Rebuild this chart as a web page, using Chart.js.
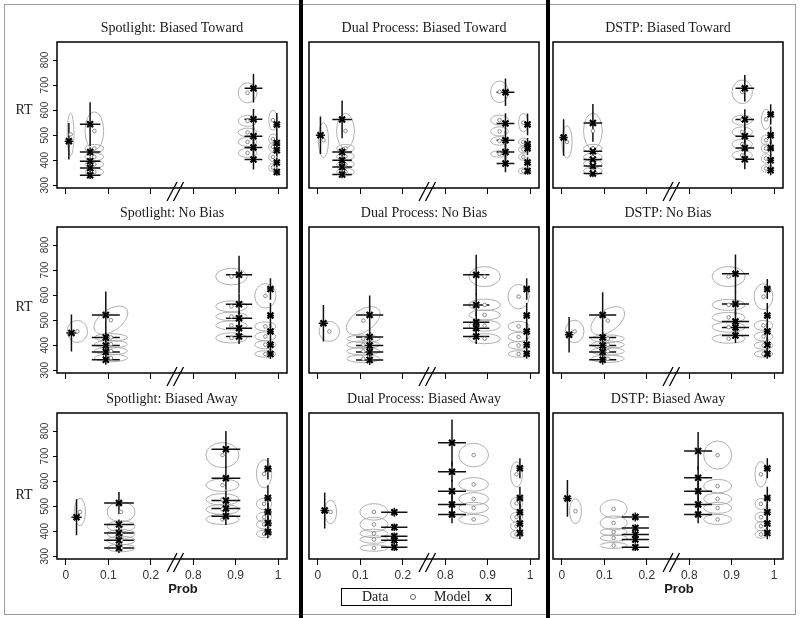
<!DOCTYPE html>
<html><head><meta charset="utf-8">
<script src="https://cdn.jsdelivr.net/npm/chart.js@4/dist/chart.umd.min.js"></script>
<style>
html,body{margin:0;padding:0;background:#fff;}
body{width:800px;height:618px;position:relative;overflow:hidden;}
.frame{position:absolute;left:4px;top:4px;width:792px;height:611px;border:1px solid #9a9a9a;box-sizing:border-box;}
.bar{position:absolute;top:0;width:4px;height:618px;background:#000;}
canvas{position:absolute;}
.t{position:absolute;font-family:"Liberation Serif","Times New Roman",serif;font-size:14px;color:#1a1a1a;white-space:nowrap;text-align:center;line-height:16px;height:16px;}
.prob{position:absolute;font-family:"Liberation Sans",Arial,sans-serif;font-weight:bold;font-size:13px;color:#1a1a1a;width:60px;text-align:center;line-height:16px;}
.legend{position:absolute;left:341px;top:588px;width:171px;height:18px;border:1px solid #000;box-sizing:border-box;font-family:"Liberation Serif","Times New Roman",serif;font-size:14px;color:#1a1a1a;}
.legend span{position:absolute;top:0;line-height:16px;}
.dot{position:absolute;width:4px;height:4px;border:1px solid #666;border-radius:50%;top:5px;}
.xm{font-family:"Liberation Sans",Arial,sans-serif;font-weight:bold;font-size:12px;}
</style>
</head>
<body>
<div class="frame"></div>
<div class="bar" style="left:299px"></div>
<div class="bar" style="left:546px"></div>
<div id="wrap"></div>
<div class="legend">
  <span style="left:20px">Data</span>
  <div class="dot" style="left:68px"></div>
  <span style="left:92px">Model</span>
  <span class="xm" style="left:143px">x</span>
</div>
<script>
// ---------------- data ----------------
const panelTitles = ["Spotlight: Biased Toward","Spotlight: No Bias","Spotlight: Biased Away",
  "Dual Process: Biased Toward","Dual Process: No Bias","Dual Process: Biased Away",
  "DSTP: Biased Toward","DSTP: No Bias","DSTP: Biased Away"];
const xTickValues = [0, 0.1, 0.2, 0.8, 0.9, 1];
const xTickLabels = ["0","0.1","0.2","0.8","0.9","1"];
const yTickValues = [300, 400, 500, 600, 700, 800];
const groupSizes = [1, 5, 5, 5];

// model: x per group (A,B,C,D), x half-error per group, y and y half-error per point
const modelGroupX = [
  [0.007, 0.057, 0.942, 0.997],
  [0.013, 0.094, 0.908, 0.982],
  [0.025, 0.125, 0.877, 0.976],
  [0.006, 0.057, 0.942, 0.994],
  [0.013, 0.122, 0.873, 0.992],
  [0.016, 0.180, 0.816, 0.976],
  [0.004, 0.073, 0.931, 0.992],
  [0.017, 0.096, 0.909, 0.984],
  [0.013, 0.173, 0.821, 0.984]];
const modelGroupXErr = [
  [0.010, 0.024, 0.021, 0.008],
  [0.012, 0.033, 0.031, 0.008],
  [0.012, 0.035, 0.034, 0.009],
  [0.011, 0.023, 0.021, 0.008],
  [0.011, 0.032, 0.031, 0.008],
  [0.010, 0.031, 0.033, 0.008],
  [0.010, 0.022, 0.022, 0.008],
  [0.010, 0.032, 0.032, 0.008],
  [0.010, 0.032, 0.033, 0.008]];
const modelY = [
  [476, 544,433,396,369,340, 687,564,496,451,403, 543,469,440,391,353],
  [449, 521,431,399,373,342, 681,564,508,468,435, 624,519,455,402,365],
  [456, 513,427,393,364,333, 727,611,523,491,460, 649,533,477,433,397],
  [500, 563,433,400,373,343, 671,547,480,433,387, 543,464,447,391,357],
  [488, 521,433,399,373,341, 681,561,492,468,435, 624,519,455,402,366],
  [483, 476,416,380,364,336, 753,637,560,507,467, 651,533,476,431,393],
  [491, 549,436,403,377,347, 687,563,496,449,404, 583,500,449,400,360],
  [442, 521,431,399,373,342, 685,565,495,471,439, 624,519,455,402,366],
  [531, 457,413,387,367,336, 720,613,560,507,467, 651,533,476,431,393]];
const modelYErr = [
  [73, 87,18,15,15,15, 57,40,35,35,40, 45,30,25,20,15],
  [74, 93,20,18,18,20, 76,40,30,30,30, 43,50,30,25,20],
  [72, 44,20,18,18,20, 73,45,40,35,35, 43,50,35,30,25],
  [75, 75,18,15,15,15, 55,40,35,35,35, 43,25,25,20,15],
  [73, 77,20,18,18,20, 80,45,40,35,30, 43,50,35,30,20],
  [72, 18,15,15,15,15, 93,40,45,40,35, 40,45,35,30,25],
  [73, 75,20,15,15,15, 53,40,35,35,40, 40,35,30,25,20],
  [71, 90,20,18,18,20, 77,45,40,35,30, 40,50,35,30,20],
  [73, 18,15,15,15,15, 76,45,40,40,35, 40,45,35,30,25]];

// data: x per group, y per point, ellipse half-widths per group, half-heights per point
const dataGroupX = [
  [0.011, 0.067, 0.928, 0.988],
  [0.027, 0.106, 0.890, 0.970],
  [0.033, 0.130, 0.869, 0.967],
  [0.013, 0.065, 0.928, 0.984],
  [0.027, 0.107, 0.893, 0.973],
  [0.030, 0.132, 0.867, 0.968],
  [0.012, 0.073, 0.925, 0.981],
  [0.030, 0.108, 0.893, 0.975],
  [0.032, 0.122, 0.867, 0.969]];
const dataY = [
  [503, 517,447,413,384,353, 669,557,511,473,429, 560,484,453,413,371],
  [455, 500,431,404,377,349, 674,555,515,479,429, 597,475,435,402,365],
  [477, 477,420,389,363,333, 704,584,527,487,447, 629,509,456,427,389],
  [480, 517,447,415,383,353, 673,560,515,477,425, 550,473,443,413,357],
  [455, 498,426,402,376,346, 674,561,521,478,426, 594,475,433,399,365],
  [477, 477,427,391,367,333, 704,587,529,493,447, 627,511,456,420,387],
  [473, 517,447,413,387,357, 673,560,513,464,420, 563,480,447,407,367],
  [455, 498,426,402,376,346, 674,561,511,472,426, 594,479,435,399,365],
  [480, 489,433,397,373,343, 704,580,529,493,447, 627,509,456,420,387]];
const ellGroupRX = [
  [0.008, 0.022, 0.022, 0.010],
  [0.024, 0.039, 0.037, 0.025],
  [0.013, 0.033, 0.039, 0.018],
  [0.012, 0.021, 0.021, 0.011],
  [0.024, 0.039, 0.037, 0.025],
  [0.014, 0.033, 0.035, 0.014],
  [0.012, 0.022, 0.024, 0.011],
  [0.022, 0.039, 0.039, 0.022],
  [0.014, 0.032, 0.033, 0.014]];
const ellRY = [
  [85, 76,16,15,15,15, 40,22,17,18,18, 40,20,18,18,15],
  [44, 48,15,15,15,15, 33,22,17,18,20, 49,18,18,16,13],
  [55, 40,22,18,17,15, 50,25,23,20,20, 56,23,20,18,15],
  [70, 70,16,15,15,15, 43,20,18,17,13, 37,15,13,13,12],
  [40, 48,15,15,15,15, 40,23,20,22,20, 49,20,18,15,13],
  [47, 33,29,17,15,13, 47,27,25,22,20, 50,25,20,18,15],
  [65, 71,16,15,15,15, 47,20,20,20,18, 40,20,18,18,15],
  [45, 48,15,15,15,15, 40,22,20,20,18, 52,20,18,15,13],
  [50, 37,28,15,13,12, 56,27,23,22,20, 51,22,20,18,15]];
// tilted ellipses: [panel, point, half-width (prob), half-height (RT), angle deg]
const ellTilt = [[1,1,0.045,43,-35],[4,1,0.045,43,-35],[7,1,0.045,43,-35]];

// ---------------- layout ----------------
const plotLeft = [57, 309, 553], plotTop = [42, 227, 413];
const plotW = 230, plotH = 146;
const xMin = -0.021, xMax = 0.521, yMin = 289, yMax = 872;
const rtCenters = [110, 307, 495];
const groupOf = [];
groupSizes.forEach((n,g)=>{for(let k=0;k<n;k++) groupOf.push(g);});
const brk = v => v > 0.5 ? v - 0.5 : v;   // broken axis: 0.8..1 drawn right after 0.2..0.3 gap

const drawPlugin = {
  id: 'panelDraw',
  beforeDatasetsDraw(chart, args, opts){
    const p = opts.panel, {ctx, chartArea:a} = chart, x = chart.scales.x, y = chart.scales.y;
    ctx.save();
    ctx.beginPath(); ctx.rect(a.left, a.top, a.right-a.left, a.bottom-a.top); ctx.clip();
    ctx.strokeStyle = '#a8a8a8'; ctx.lineWidth = 0.9;
    for (let i=0;i<dataY[p].length;i++){
      const g = groupOf[i];
      let rx = ellGroupRX[p][g], ry = ellRY[p][i], ang = 0;
      const t = ellTilt.find(e=>e[0]===p && e[1]===i);
      if (t){ rx=t[2]; ry=t[3]; ang=t[4]; }
      const xv = brk(dataGroupX[p][g]);
      const cx = x.getPixelForValue(xv), cy = y.getPixelForValue(dataY[p][i]);
      const rxp = Math.abs(x.getPixelForValue(xv+rx)-cx), ryp = Math.abs(y.getPixelForValue(dataY[p][i]+ry)-cy);
      ctx.beginPath(); ctx.ellipse(cx, cy, rxp, ryp, ang*Math.PI/180, 0, 2*Math.PI); ctx.stroke();
    }
    ctx.strokeStyle = '#111'; ctx.lineWidth = 1.5;
    for (let i=0;i<modelY[p].length;i++){
      const g = groupOf[i];
      const xv = brk(modelGroupX[p][g]), xe = modelGroupXErr[p][g];
      const yv = modelY[p][i], ye = modelYErr[p][i];
      const px = x.getPixelForValue(xv), py = y.getPixelForValue(yv);
      ctx.beginPath();
      ctx.moveTo(x.getPixelForValue(xv-xe), py); ctx.lineTo(x.getPixelForValue(xv+xe), py);
      ctx.moveTo(px, y.getPixelForValue(yv-ye)); ctx.lineTo(px, y.getPixelForValue(yv+ye));
      ctx.stroke();
    }
    ctx.restore();
  },
  afterDraw(chart, args, opts){
    const {ctx, chartArea:a} = chart, x = chart.scales.x, y = chart.scales.y;
    ctx.save();
    ctx.strokeStyle = '#000'; ctx.lineWidth = 1.5;
    ctx.strokeRect(a.left, a.top, a.right-a.left, a.bottom-a.top);
    // axis break marks
    const xs = x.getPixelForValue(0.25), b = a.bottom;
    ctx.lineWidth = 1.3;
    ctx.beginPath();
    ctx.moveTo(xs-5, b+13); ctx.lineTo(xs+5, b-6);
    ctx.moveTo(xs+1.5, b+13); ctx.lineTo(xs+11.5, b-6);
    ctx.stroke();
    if (opts.col === 0){
      ctx.fillStyle = '#333';
      ctx.font = '10px "Liberation Sans", Arial, sans-serif';
      ctx.textAlign = 'center'; ctx.textBaseline = 'middle';
      yTickValues.forEach(v=>{
        const py = y.getPixelForValue(v);
        ctx.save(); ctx.translate(a.left-12, py); ctx.rotate(-Math.PI/2);
        ctx.fillText(String(v), 0, 0); ctx.restore();
      });
    }
    ctx.restore();
  }
};

const wrap = document.getElementById('wrap');
for (let p=0;p<9;p++){
  const col = Math.floor(p/3), row = p%3;
  const mL = col===0 ? 57 : 8, mT = 10, mR = 8, mB = 32;
  const cv = document.createElement('canvas');
  const W = mL+plotW+mR, H = mT+plotH+mB;
  cv.width = W; cv.height = H;
  cv.style.width = W+'px'; cv.style.height = H+'px';
  cv.style.left = (plotLeft[col]-mL)+'px'; cv.style.top = (plotTop[row]-mT)+'px';
  wrap.appendChild(cv);

  const title = document.createElement('div');
  title.className = 't'; title.textContent = panelTitles[p];
  title.style.left = (plotLeft[col]+plotW/2-150)+'px'; title.style.width = '300px';
  title.style.top = (plotTop[row]-22)+'px';
  wrap.appendChild(title);
  if (col===0){
    const rt = document.createElement('div');
    rt.className = 't'; rt.textContent = 'RT';
    rt.style.left = '9px'; rt.style.width = '30px'; rt.style.top = (rtCenters[row]-8)+'px';
    wrap.appendChild(rt);
  }
  if (row===2 && col!==1){
    const pr = document.createElement('div');
    pr.className = 'prob'; pr.textContent = 'Prob';
    pr.style.left = (plotLeft[col]+126-30)+'px'; pr.style.top = '581px';
    wrap.appendChild(pr);
  }

  const modelPts = modelY[p].map((v,i)=>({x: brk(modelGroupX[p][groupOf[i]]), y: v}));
  const dataPts = dataY[p].map((v,i)=>({x: brk(dataGroupX[p][groupOf[i]]), y: v}));

  new Chart(cv, {
    type: 'scatter',
    data: { datasets: [
      { label:'Data', data: dataPts, pointStyle:'circle', pointRadius:1.8, borderColor:'#808080', borderWidth:0.9, backgroundColor:'#fff', order:2 },
      { label:'Model', data: modelPts, pointStyle:'crossRot', pointRadius:4.2, borderColor:'#000', borderWidth:2.2, backgroundColor:'#000', order:1 }
    ]},
    options: {
      responsive:false, animation:false, devicePixelRatio:1,
      layout:{ padding:{ left:0, top:mT, right:mR, bottom:0 } },
      plugins:{ legend:{display:false}, tooltip:{enabled:false}, title:{display:false}, panelDraw:{panel:p, col:col} },
      scales:{
        x:{ type:'linear', min:xMin, max:xMax,
            afterBuildTicks: s=>{ s.ticks = xTickValues.map(v=>({value: brk(v)})); },
            afterFit: s=>{ s.height = mB; },
            ticks:{ display: row===2, autoSkip:false, maxRotation:0, minRotation:0, padding:3,
                    color:'#333', font:{family:'"Liberation Sans", Arial, sans-serif', size:12},
                    callback:(v,i)=>xTickLabels[i] },
            grid:{ drawOnChartArea:false, drawTicks:true, tickLength:6, color:'#000', lineWidth:1 },
            border:{ display:false } },
        y:{ type:'linear', min:yMin, max:yMax,
            afterBuildTicks: s=>{ s.ticks = yTickValues.map(v=>({value:v})); },
            afterFit: s=>{ s.width = mL; },
            ticks:{ display:false },
            grid:{ drawOnChartArea:false, drawTicks: col===0, tickLength:4, color:'#000', lineWidth:1 },
            border:{ display:false } }
      }
    },
    plugins:[drawPlugin]
  });
}
</script>
</body></html>
